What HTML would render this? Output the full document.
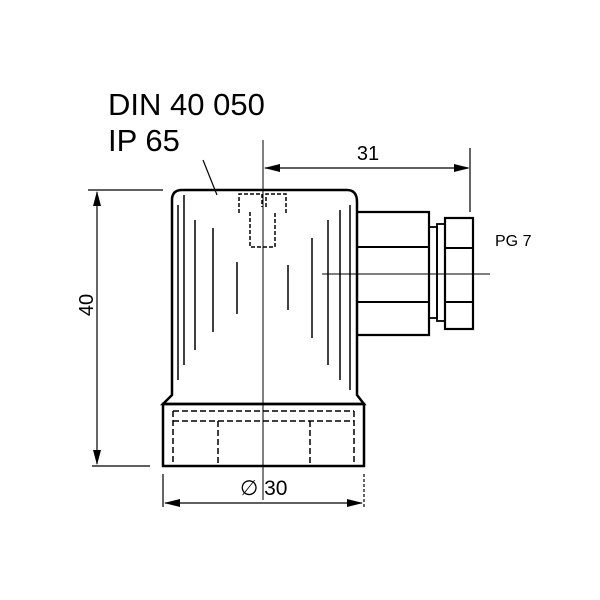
<!DOCTYPE html>
<html><head><style>body{margin:0;background:#fff}svg{display:block}</style></head><body>
<svg width="600" height="600" viewBox="0 0 600 600" xmlns="http://www.w3.org/2000/svg" font-family="Liberation Sans, sans-serif">
<rect width="600" height="600" fill="#fff"/>
<g stroke="#000" fill="none">
<path d="M172,395 L172,200 Q172,190 182,190 L347,190 Q357,190 357,202 L357,395 L364,404 L163,404 L172,395 Z" stroke-width="2.5"/>
<rect x="163" y="404" width="201" height="62" stroke-width="2.5"/>
<path d="M357,212 L429,212 L429,335 L357,335" stroke-width="2.2"/>
<line x1="357" y1="247" x2="429" y2="247" stroke-width="2"/>
<line x1="357" y1="302" x2="429" y2="302" stroke-width="2"/>
<rect x="429" y="227" width="8" height="91" stroke-width="1.8"/>
<rect x="437" y="224" width="8" height="97" stroke-width="1.8"/>
<rect x="445" y="218" width="28" height="111" stroke-width="2.2"/>
<line x1="445" y1="248" x2="473" y2="248" stroke-width="2"/>
<line x1="445" y1="302" x2="473" y2="302" stroke-width="2"/>
<g stroke-width="1.5">
<line x1="178" y1="205" x2="178" y2="380"/><line x1="184" y1="195" x2="184" y2="365"/>
<line x1="195" y1="220" x2="195" y2="350"/><line x1="213" y1="228" x2="213" y2="332"/>
<line x1="237" y1="262" x2="237" y2="314"/><line x1="288" y1="265" x2="288" y2="310"/>
<line x1="312" y1="238" x2="312" y2="338"/><line x1="328" y1="220" x2="328" y2="365"/>
<line x1="340" y1="210" x2="340" y2="380"/><line x1="350" y1="205" x2="350" y2="390"/>
</g>
<g stroke-width="1.5" stroke-dasharray="4,2">
<path d="M239,213 L239,194 L262,194 L262,207 M266,207 L266,194 L286,194 L286,213"/>
<path d="M250,212 L250,247 L275,247 L275,212"/>
</g>
<g stroke-width="1.5" stroke-dasharray="6,3">
<line x1="173" y1="411" x2="354" y2="411"/><line x1="173" y1="421" x2="354" y2="421"/>
<line x1="173" y1="411" x2="173" y2="466"/><line x1="218" y1="421" x2="218" y2="466"/>
<line x1="310" y1="421" x2="310" y2="466"/><line x1="354" y1="411" x2="354" y2="466"/>
</g>
<line x1="263" y1="140" x2="263" y2="500" stroke-width="1"/>
<line x1="322" y1="274" x2="490" y2="274" stroke-width="1"/>
<line x1="203" y1="160" x2="217" y2="195" stroke-width="1.2"/>
<line x1="88" y1="190" x2="163" y2="190" stroke-width="1.2"/>
<line x1="92" y1="466" x2="150" y2="466" stroke-width="1.2"/>
<line x1="97" y1="192" x2="97" y2="464" stroke-width="1.2"/>
<line x1="470" y1="148" x2="470" y2="212" stroke-width="1.2"/>
<line x1="265" y1="168" x2="468" y2="168" stroke-width="1.2"/>
<line x1="163" y1="474" x2="163" y2="507" stroke-width="1.2"/>
<line x1="364" y1="474" x2="364" y2="507" stroke-width="1.2" stroke-dasharray="3,2"/>
<line x1="165" y1="503" x2="362" y2="503" stroke-width="1.2"/>
</g>
<g fill="#000">
<polygon points="97,191 93,206 101,206"/><polygon points="97,465 93,450 101,450"/>
<polygon points="264,168 280,164 280,172"/><polygon points="470,168 454,164 454,172"/>
<polygon points="164,503 180,499 180,507"/><polygon points="363,503 347,499 347,507"/>
</g>
<g fill="#000">
<text x="108" y="115" font-size="31">DIN 40 050</text>
<text x="108" y="151" font-size="31">IP 65</text>
<text x="368" y="160" font-size="20" text-anchor="middle">31</text>
<text x="495" y="246" font-size="16">PG 7</text>
<text x="240" y="495" font-size="21">∅ 30</text>
<text x="95" y="305" font-size="20" text-anchor="middle" transform="rotate(-90 95 305)" dy="-2">40</text>
</g>
</svg>
</body></html>
